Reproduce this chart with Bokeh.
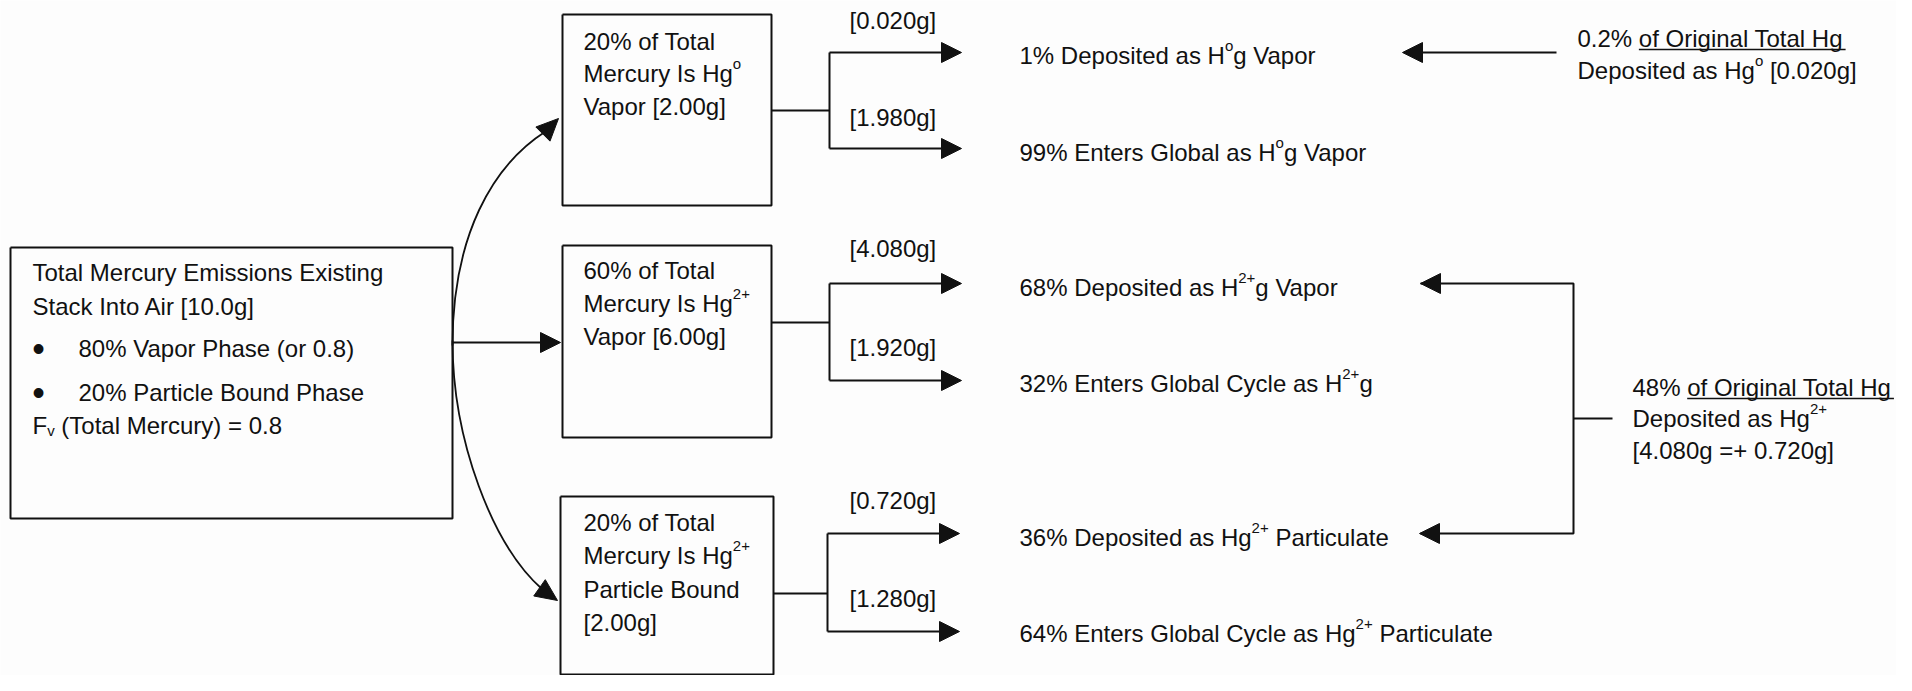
import math
from bokeh.plotting import figure
from bokeh.models import Range1d
from bokeh.core.properties import value
from bokeh.embed import file_html
from bokeh.resources import INLINE

# ---------------- data (text content and values) ----------------
total_mass = "10.0g"
phase_pct = [80, 20]                      # vapor / particle bound
fv_total = "0.8"
species_pct = [20, 60, 20]                # share of total mercury
species_ion = ["o", "2+", "2+"]
species_phase = [["Vapor [2.00g]"], ["Vapor [6.00g]"], ["Particle Bound", "[2.00g]"]]
branch_grams = [["[0.020g]", "[1.980g]"], ["[4.080g]", "[1.920g]"], ["[0.720g]", "[1.280g]"]]
fate_lines = [
    [[("1% Deposited as H", ""), ("o", "sup"), ("g Vapor", "")],
     [("99% Enters Global as H", ""), ("o", "sup"), ("g Vapor", "")]],
    [[("68% Deposited as H", ""), ("2+", "sup"), ("g Vapor", "")],
     [("32% Enters Global Cycle as H", ""), ("2+", "sup"), ("g", "")]],
    [[("36% Deposited as Hg", ""), ("2+", "sup"), (" Particulate", "")],
     [("64% Enters Global Cycle as Hg", ""), ("2+", "sup"), (" Particulate", "")]],
]
summary1 = [[("0.2% ", ""), ("of Original Total Hg", "u")],
            [("Deposited as Hg", ""), ("o", "sup"), (" [0.020g]", "")]]
summary2 = [[("48% ", ""), ("of Original Total Hg", "u")],
            [("Deposited as Hg", ""), ("2+", "sup")],
            [("[4.080g =+ 0.720g]", "")]]

# ---------------- layout ----------------
FS, SFS = 24, 15
W = {' ': 278, '%': 889, '.': 278, '[': 278, ']': 278, '(': 333, ')': 333, '=': 584, '+': 584,
     'A': 667, 'B': 667, 'C': 722, 'D': 722, 'E': 667, 'F': 611, 'G': 778, 'H': 722, 'I': 278,
     'M': 833, 'O': 778, 'P': 667, 'S': 667, 'T': 611, 'V': 667,
     'a': 556, 'b': 556, 'c': 500, 'd': 556, 'e': 556, 'f': 278, 'g': 556, 'h': 556, 'i': 222,
     'l': 222, 'm': 833, 'n': 556, 'o': 556, 'p': 556, 'r': 333, 's': 500, 't': 278, 'u': 556,
     'v': 500, 'x': 500, 'y': 500}
for d in "0123456789":
    W[d] = 556


def tw(s, size):
    return sum(W.get(c, 556) for c in s) * size / 1000.0


big = dict(x=[], y=[], text=[])
small = dict(x=[], y=[], text=[])
ul = dict(x0=[], y0=[], x1=[], y1=[])


def rich(x, y, segs):
    for s, kind in segs:
        size = SFS if kind in ("sup", "sub") else FS
        full_w = tw(s, size)
        lead = len(s) - len(s.lstrip(" "))
        xs = x + tw(" " * lead, size)
        s = s.strip(" ")
        if kind == "sup":
            small["x"].append(xs); small["y"].append(y - 10); small["text"].append(s)
        elif kind == "sub":
            small["x"].append(xs); small["y"].append(y + 5); small["text"].append(s)
        else:
            big["x"].append(xs); big["y"].append(y); big["text"].append(s)
            if kind == "u":
                w = tw(s, FS)
                ul["x0"].append(xs); ul["x1"].append(xs + w)
                ul["y0"].append(y + 11); ul["y1"].append(y + 11)
        x += full_w


lines = dict(xs=[], ys=[])
heads = dict(xs=[], ys=[])


def line(xs, ys):
    lines["xs"].append(list(xs)); lines["ys"].append(list(ys))


def head(tx, ty, dx, dy, L=20, Wd=10):
    n = math.hypot(dx, dy); ux, uy = dx / n, dy / n
    bx, by = tx - ux * L, ty - uy * L
    px, py = -uy, ux
    heads["xs"].append([tx, bx + px * Wd, bx - px * Wd])
    heads["ys"].append([ty, by + py * Wd, by - py * Wd])


def arrow(x0, y0, x1, y1):
    dx, dy = x1 - x0, y1 - y0
    n = math.hypot(dx, dy)
    line([x0, x1 - dx / n * 15], [y0, y1 - dy / n * 15])
    head(x1, y1, dx, dy)


# source box
src_box = (10, 452, 247, 518)
line([src_box[0], src_box[1], src_box[1], src_box[0], src_box[0]],
     [src_box[2], src_box[2], src_box[3], src_box[3], src_box[2]])
rich(32, 272, [("Total Mercury Emissions Existing", "")])
rich(32, 306, [("Stack Into Air [" + total_mass + "]", "")])
bullet_y = [348, 392]
bullet_txt = [f"{phase_pct[0]}% Vapor Phase (or {fv_total})", f"{phase_pct[1]}% Particle Bound Phase"]
for by, bt in zip(bullet_y, bullet_txt):
    rich(78, by, [(bt, "")])
rich(32, 425, [("F", ""), ("v", "sub"), (" (Total Mercury) = " + fv_total, "")])

# species boxes
box_x = [(562, 771), (562, 771), (560, 773)]
box_y = [(14, 205), (245, 437), (496, 674)]
box_text_y = [[41, 73, 106], [270, 303, 336], [522, 555, 589, 622]]
stem_y = [110, 322, 593]
fork_x = [829, 829, 827]
arrow_y = [(52, 148), (283, 380), (533, 631)]
tip_x = [961, 961, 959]
gram_y = [(20, 117), (248, 347), (500, 598)]
fate_y = [(55, 152), (287, 383), (537, 633)]

for i in range(3):
    x0, x1 = box_x[i]; y0, y1 = box_y[i]
    line([x0, x1, x1, x0, x0], [y0, y0, y1, y1, y0])
    tl = [[(f"{species_pct[i]}% of Total", "")],
          [("Mercury Is Hg", ""), (species_ion[i], "sup")]] + [[(t, "")] for t in species_phase[i]]
    for segs, ty in zip(tl, box_text_y[i]):
        rich(583, ty, segs)
    line([x1, fork_x[i]], [stem_y[i], stem_y[i]])
    line([fork_x[i], fork_x[i]], [arrow_y[i][0], arrow_y[i][1]])
    for k in range(2):
        arrow(fork_x[i], arrow_y[i][k], tip_x[i], arrow_y[i][k])
        rich(849, gram_y[i][k], [(branch_grams[i][k], "")])
        rich(1019, fate_y[i][k], fate_lines[i][k])

# source -> species arrows
arrow(452, 342, 560, 342)
cx = [[452, 452, 492, 545], [452, 452, 492, 542]]
cy = [[345, 235, 165, 131], [340, 440, 545, 589]]
curves = dict(x0=[c[0] for c in cx], y0=[c[0] for c in cy],
              cx0=[c[1] for c in cx], cy0=[c[1] for c in cy],
              cx1=[c[2] for c in cx], cy1=[c[2] for c in cy],
              x1=[c[3] for c in cx], y1=[c[3] for c in cy])
head(558, 118, 1, -1, L=22, Wd=10)
head(557, 600, 17, 12, L=22, Wd=10)

# summaries on the right
arrow(1556, 52, 1402, 52)
for j, segs in enumerate(summary1):
    rich(1577, [38, 70][j], segs)
line([1420, 1573, 1573, 1420], [283, 283, 533, 533])
line([1573, 1612], [418, 418])
head(1420, 283, -1, 0)
head(1419, 533, -1, 0)
for j, segs in enumerate(summary2):
    rich(1632, [387, 418, 450][j], segs)

# ---------------- figure ----------------
p = figure(width=1896, height=675, x_range=Range1d(0, 1896), y_range=Range1d(675, 0),
           output_backend="svg", toolbar_location=None, min_border=0)
p.axis.visible = False
p.grid.visible = False
p.outline_line_color = None
p.background_fill_color = "#fdfdfd"
p.border_fill_color = "#fdfdfd"

INK = "#111111"
p.multi_line(xs="xs", ys="ys", source=lines, line_color=INK, line_width=2)
p.bezier(x0="x0", y0="y0", x1="x1", y1="y1", cx0="cx0", cy0="cy0", cx1="cx1", cy1="cy1",
         source=curves, line_color=INK, line_width=1.8)
p.patches(xs="xs", ys="ys", source=heads, fill_color=INK, line_color=INK, line_width=1)
p.segment(x0="x0", y0="y0", x1="x1", y1="y1", source=ul, line_color=INK, line_width=1.5)
p.text(x="x", y="y", text="text", source=big, text_font=value("Liberation Sans"),
       text_font_size="24px", text_baseline="middle", text_align="left", text_color=INK)
p.text(x="x", y="y", text="text", source=small, text_font=value("Liberation Sans"),
       text_font_size="15px", text_baseline="middle", text_align="left", text_color=INK)
p.text(x=[38, 38], y=bullet_y, text=["\u2022", "\u2022"],
       text_font=value("Liberation Sans"), text_font_size="36px", text_baseline="middle",
       text_align="center", text_color=INK)

open("out.html", "w").write(file_html(p, INLINE))
